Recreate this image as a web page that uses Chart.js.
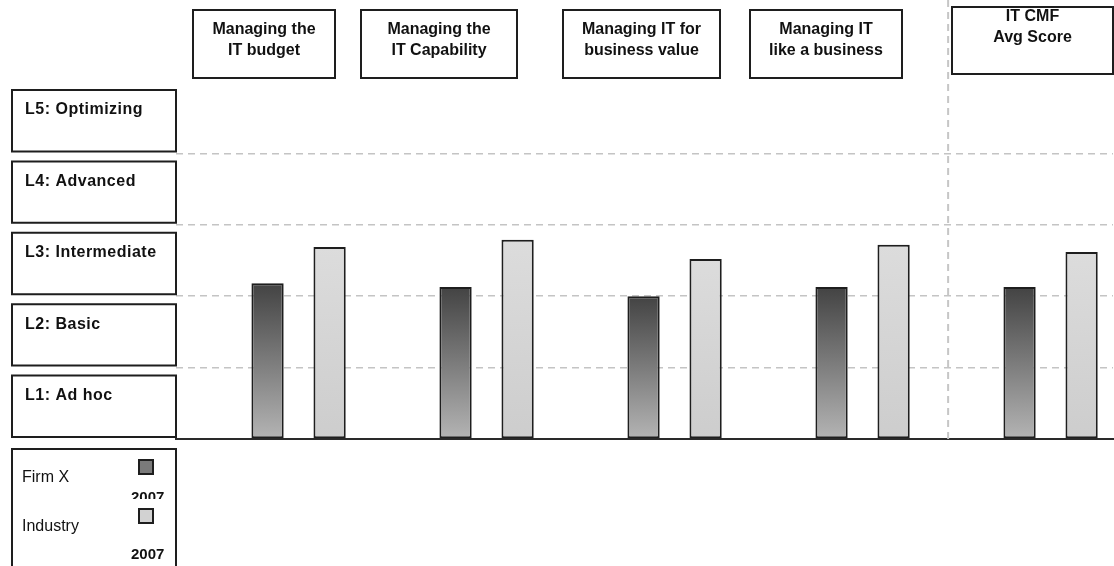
<!DOCTYPE html>
<html>
<head>
<meta charset="utf-8">
<script src="https://cdn.jsdelivr.net/npm/chart.js@4"></script>
<style>
  html, body { margin: 0; padding: 0; background: #fff; }
  #wrap { position: relative; width: 1114px; height: 566px; }
</style>
</head>
<body>
<div id="wrap"><canvas id="cmf"></canvas></div>
<script>
// header boxes, one per category (two printed lines each)
const categories = [
  ['Managing the', 'IT budget'],
  ['Managing the', 'IT Capability'],
  ['Managing IT for', 'business value'],
  ['Managing IT', 'like a business'],
  ['IT CMF', 'Avg Score']
];
const levels = ['L1: Ad hoc', 'L2: Basic', 'L3: Intermediate', 'L4: Advanced', 'L5: Optimizing'];
const seriesNames = ['Firm X', 'Industry'];
const seriesYear = '2007';
const firmX = [2.18, 2.13, 2.0, 2.13, 2.13];
const industry = [2.69, 2.79, 2.52, 2.72, 2.62];
const categoryIdx = [0, 1, 2, 3, 4];

// layout only (pixel boxes of the header labels)
const headerBoxes = [
  { l: 193, r: 335, t: 10, b: 78, ty: 30 },
  { l: 361, r: 517, t: 10, b: 78, ty: 30 },
  { l: 563, r: 720, t: 10, b: 78, ty: 30 },
  { l: 750, r: 902, t: 10, b: 78, ty: 30 },
  { l: 952, r: 1113, t: 7, b: 74, ty: 17 }
];

const FONT = '"Liberation Sans", Arial, sans-serif';

function barFill(top, bottom) {
  return (ctx) => {
    const chart = ctx.chart;
    const y = chart.scales.y;
    if (ctx.type !== 'data' || !chart.chartArea || !y) return bottom;
    const g = chart.ctx.createLinearGradient(0, y.getPixelForValue(ctx.parsed.y), 0, y.getPixelForValue(0));
    g.addColorStop(0, top);
    g.addColorStop(1, bottom);
    return g;
  };
}

function box(c, l, t, r, b) {
  c.beginPath();
  c.rect(l, t, r - l, b - t);
  c.fillStyle = '#fff';
  c.fill();
  c.stroke();
}

const decorations = {
  id: 'decorations',
  beforeDatasetsDraw(chart) {
    // dashed separator before the average group
    const c = chart.ctx, x = chart.scales.x;
    const px = x.getPixelForValue(3.455);
    c.save();
    c.strokeStyle = '#c6c6c6';
    c.lineWidth = 2;
    c.setLineDash([7, 5]);
    c.beginPath();
    c.moveTo(px, 0);
    c.lineTo(px, chart.chartArea.bottom);
    c.stroke();
    c.restore();
  },
  afterDraw(chart) {
    const c = chart.ctx, y = chart.scales.y;
    c.save();
    c.strokeStyle = '#1e1e1e';
    c.lineWidth = 2;

    // level boxes, one per band of the y scale
    levels.forEach((name, k) => {
      const t = y.getPixelForValue(k + 1) + 8;
      const b = y.getPixelForValue(k) - 2;
      box(c, 12, t, 176, b);
      c.fillStyle = '#111';
      c.font = 'bold 16px ' + FONT;
      c.letterSpacing = '0.5px';
      c.textAlign = 'left';
      c.textBaseline = 'middle';
      c.fillText(name, 25, t + 20);
    });

    // header boxes
    headerBoxes.forEach((hb, i) => {
      box(c, hb.l, hb.t, hb.r, hb.b);
      c.fillStyle = '#111';
      c.font = 'bold 16px ' + FONT;
      c.letterSpacing = '0px';
      c.textAlign = 'center';
      c.textBaseline = 'middle';
      categories[i].forEach((line, j) => c.fillText(line, (hb.l + hb.r) / 2, hb.ty + j * 21));
    });
    c.letterSpacing = '0px';

    // legend
    box(c, 12, 449, 176, 580);
    chart.data.datasets.forEach((ds, i) => {
      const top = 460 + i * 49;
      c.fillStyle = ds.swatch;
      c.strokeStyle = '#1e1e1e';
      c.lineWidth = 2;
      c.fillRect(139, top, 14, 14);
      c.strokeRect(139, top, 14, 14);
      c.fillStyle = '#111';
      c.textAlign = 'left';
      c.textBaseline = 'middle';
      c.font = '16px ' + FONT;
      c.fillText(seriesNames[i], 22, top + 18);
      c.save();
      if (i === 0) { c.beginPath(); c.rect(100, 480, 76, 19); c.clip(); }
      c.font = 'bold 15px ' + FONT;
      c.fillText(seriesYear, 131, top + (i === 0 ? 38 : 46));
      c.restore();
    });
    c.restore();
  }
};

new Chart(document.getElementById('cmf'), {
  type: 'bar',
  data: {
    datasets: [
      {
        label: seriesNames[0] + ' ' + seriesYear,
        data: categoryIdx.map((x, i) => ({ x, y: firmX[i] })),
        backgroundColor: barFill('#434343', '#b4b4b4'),
        swatch: '#7a7a7a',
        borderColor: '#1e1e1e',
        borderWidth: 2,
        borderSkipped: false
      },
      {
        label: seriesNames[1] + ' ' + seriesYear,
        data: categoryIdx.map((x, i) => ({ x, y: industry[i] })),
        backgroundColor: barFill('#dcdcdc', '#cdcdcd'),
        swatch: '#d2d2d2',
        borderColor: '#1e1e1e',
        borderWidth: 2,
        borderSkipped: false
      }
    ]
  },
  options: {
    responsive: true,
    maintainAspectRatio: false,
    animation: false,
    categoryPercentage: 0.66,
    barPercentage: 0.52,
    layout: { padding: { left: 176, right: 1, top: 82, bottom: 127 } },
    plugins: { legend: { display: false }, tooltip: { enabled: false } },
    scales: {
      x: {
        type: 'linear',
        min: -0.652,
        max: 4.332,
        offset: false,
        afterBuildTicks: (scale) => { scale.ticks = categoryIdx.map(v => ({ value: v })); },
        ticks: { display: false },
        grid: { display: false, drawTicks: false, offset: false },
        border: { display: true, color: '#2a2a2a', width: 2 }
      },
      y: {
        min: 0,
        max: 5,
        ticks: { display: false, stepSize: 1 },
        grid: {
          drawTicks: false,
          lineWidth: 1.5,
          color: (ctx) => (ctx.tick && ctx.tick.value > 0 && ctx.tick.value < 5) ? '#c4c4c4' : 'rgba(0,0,0,0)'
        },
        border: { display: false, dash: [7, 5] }
      }
    }
  },
  plugins: [decorations]
});
</script>
</body>
</html>
